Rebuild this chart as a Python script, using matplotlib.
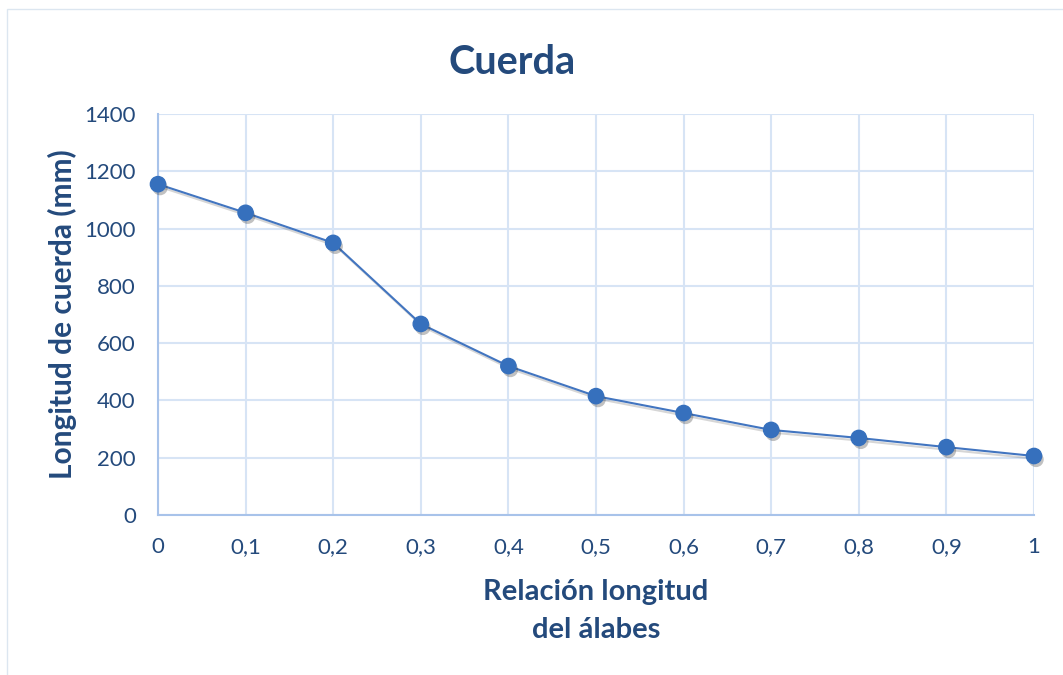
import matplotlib
matplotlib.use("Agg")
import matplotlib.pyplot as plt
import matplotlib.patheffects as pe
from matplotlib.ticker import FixedLocator, FixedFormatter

# Chord length along the blade
relacion = [0.0, 0.1, 0.2, 0.3, 0.4, 0.5, 0.6, 0.7, 0.8, 0.9, 1.0]
cuerda_mm = [1155, 1055, 950, 667, 520, 415, 356, 297, 269, 237, 206]

x_ticks = [0, 0.1, 0.2, 0.3, 0.4, 0.5, 0.6, 0.7, 0.8, 0.9, 1.0]
x_tick_labels = ["0", "0,1", "0,2", "0,3", "0,4", "0,5", "0,6", "0,7", "0,8", "0,9", "1"]
y_ticks = [0, 200, 400, 600, 800, 1000, 1200, 1400]

text_color = "#244a7c"
line_color = "#4275c0"
marker_color = "#3670bd"
grid_color = "#d7e4f5"
spine_color = "#a8c3ea"

plt.rcParams["font.family"] = ["Lato", "DejaVu Sans"]

fig = plt.figure(figsize=(10.63, 6.75), dpi=100)
fig.patch.set_facecolor("white")

# thin frame around the chart area
frame = plt.Rectangle((7 / 1063, -0.01), 1.02, (675 - 9) / 675 + 0.01,
                      transform=fig.transFigure, fill=False,
                      edgecolor="#dce6f0", linewidth=1.0)
fig.patches.append(frame)

ax = fig.add_axes([158 / 1063, (675 - 515) / 675, (1034 - 158) / 1063, 401 / 675])
ax.plot(relacion, cuerda_mm, color=line_color, linewidth=1.5, zorder=3,
        path_effects=[pe.SimpleLineShadow(offset=(1.5, -2), alpha=0.2, shadow_color="#333333"),
                      pe.Normal()])
ax.plot(relacion, cuerda_mm, linestyle="none", marker="o", markersize=11,
        markerfacecolor=marker_color, markeredgecolor=marker_color,
        zorder=4, clip_on=False,
        path_effects=[pe.SimplePatchShadow(offset=(1.5, -2.5), alpha=0.3, shadow_rgbFace="#333333"),
                      pe.Normal()])

ax.set_xlim(0, 1)
ax.set_ylim(0, 1400)
ax.xaxis.set_major_locator(FixedLocator(x_ticks))
ax.xaxis.set_major_formatter(FixedFormatter(x_tick_labels))
ax.set_yticks(y_ticks)
ax.grid(True, color=grid_color, linewidth=1.5)
ax.set_axisbelow(True)
for side in ["top", "right"]:
    ax.spines[side].set_visible(False)
for side in ["left", "bottom"]:
    ax.spines[side].set_color(spine_color)
    ax.spines[side].set_linewidth(1.5)
ax.tick_params(length=0, labelsize=16, labelcolor=text_color)
ax.tick_params(axis="x", pad=16)
ax.tick_params(axis="y", pad=16)

fig.text(512 / 1063, 1 - 62 / 675, "Cuerda", ha="center", va="center",
         fontsize=28.5, fontweight="bold", color=text_color)
ax.set_xlabel("Relación longitud\ndel álabes", fontsize=21, fontweight="bold",
              color=text_color, linespacing=1.55, labelpad=16)
ax.set_ylabel("Longitud de cuerda (mm)", fontsize=21.5, fontweight="bold",
              color=text_color, labelpad=5)

fig.savefig("out.png", dpi=100, facecolor="white")
